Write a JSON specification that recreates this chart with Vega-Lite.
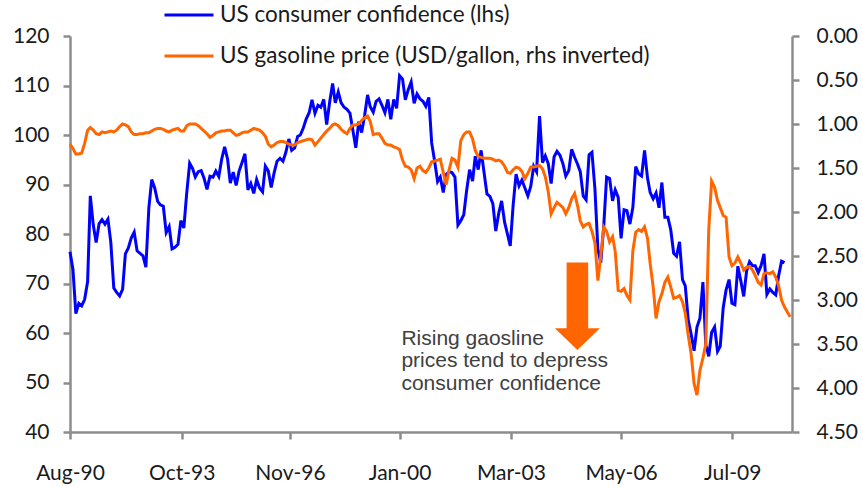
{
"$schema":"https://vega.github.io/schema/vega-lite/v6.json",
"width":722,"height":396,
"autosize":{"type":"none"},
"padding":{"left":70,"top":36,"right":71,"bottom":55},
"background":"white",
"config":{"view":{"stroke":null},"font":"Lato",
 "axis":{"grid":false,"domainColor":"#8c8c8c","domainWidth":2.5,"tickColor":"#8c8c8c","tickWidth":2.5,"tickSize":7,"labelFont":"Lato","labelFontSize":21,"labelColor":"#1a1a1a","title":null}},
"datasets":{
"conf":[
{"date":"1990-08-01","v":76.4},{"date":"1990-09-01","v":72.8},{"date":"1990-10-01","v":63.9},{"date":"1990-11-01","v":66.0},{"date":"1990-12-01","v":65.5},
{"date":"1991-01-01","v":66.8},{"date":"1991-02-01","v":70.4},{"date":"1991-03-01","v":87.7},{"date":"1991-04-01","v":81.8},{"date":"1991-05-01","v":78.3},{"date":"1991-06-01","v":82.1},{"date":"1991-07-01","v":82.9},{"date":"1991-08-01","v":82.0},{"date":"1991-09-01","v":83.0},{"date":"1991-10-01","v":78.3},{"date":"1991-11-01","v":69.1},{"date":"1991-12-01","v":68.2},
{"date":"1992-01-01","v":67.5},{"date":"1992-02-01","v":68.8},{"date":"1992-03-01","v":76.0},{"date":"1992-04-01","v":77.2},{"date":"1992-05-01","v":79.2},{"date":"1992-06-01","v":80.4},{"date":"1992-07-01","v":76.6},{"date":"1992-08-01","v":76.1},{"date":"1992-09-01","v":75.6},{"date":"1992-10-01","v":73.3},{"date":"1992-11-01","v":85.3},{"date":"1992-12-01","v":91.0},
{"date":"1993-01-01","v":89.3},{"date":"1993-02-01","v":86.6},{"date":"1993-03-01","v":85.9},{"date":"1993-04-01","v":85.6},{"date":"1993-05-01","v":80.3},{"date":"1993-06-01","v":81.5},{"date":"1993-07-01","v":77.0},{"date":"1993-08-01","v":77.3},{"date":"1993-09-01","v":77.9},{"date":"1993-10-01","v":82.7},{"date":"1993-11-01","v":81.2},{"date":"1993-12-01","v":88.2},
{"date":"1994-01-01","v":94.3},{"date":"1994-02-01","v":93.2},{"date":"1994-03-01","v":91.5},{"date":"1994-04-01","v":92.6},{"date":"1994-05-01","v":92.8},{"date":"1994-06-01","v":91.2},{"date":"1994-07-01","v":89.0},{"date":"1994-08-01","v":91.7},{"date":"1994-09-01","v":91.5},{"date":"1994-10-01","v":92.7},{"date":"1994-11-01","v":91.6},{"date":"1994-12-01","v":95.1},
{"date":"1995-01-01","v":97.6},{"date":"1995-02-01","v":95.1},{"date":"1995-03-01","v":90.3},{"date":"1995-04-01","v":92.5},{"date":"1995-05-01","v":89.8},{"date":"1995-06-01","v":92.7},{"date":"1995-07-01","v":94.4},{"date":"1995-08-01","v":96.2},{"date":"1995-09-01","v":88.9},{"date":"1995-10-01","v":90.2},{"date":"1995-11-01","v":88.2},{"date":"1995-12-01","v":91.0},
{"date":"1996-01-01","v":89.3},{"date":"1996-02-01","v":88.5},{"date":"1996-03-01","v":93.7},{"date":"1996-04-01","v":92.7},{"date":"1996-05-01","v":89.4},{"date":"1996-06-01","v":92.4},{"date":"1996-07-01","v":94.7},{"date":"1996-08-01","v":95.3},{"date":"1996-09-01","v":94.7},{"date":"1996-10-01","v":96.5},{"date":"1996-11-01","v":99.2},{"date":"1996-12-01","v":96.9},
{"date":"1997-01-01","v":97.4},{"date":"1997-02-01","v":99.7},{"date":"1997-03-01","v":100.0},{"date":"1997-04-01","v":101.4},{"date":"1997-05-01","v":103.2},{"date":"1997-06-01","v":104.5},{"date":"1997-07-01","v":107.1},{"date":"1997-08-01","v":104.4},{"date":"1997-09-01","v":106.0},{"date":"1997-10-01","v":105.6},{"date":"1997-11-01","v":107.2},{"date":"1997-12-01","v":102.1},
{"date":"1998-01-01","v":106.6},{"date":"1998-02-01","v":110.4},{"date":"1998-03-01","v":106.5},{"date":"1998-04-01","v":108.7},{"date":"1998-05-01","v":106.5},{"date":"1998-06-01","v":105.6},{"date":"1998-07-01","v":105.2},{"date":"1998-08-01","v":104.4},{"date":"1998-09-01","v":100.9},{"date":"1998-10-01","v":97.4},{"date":"1998-11-01","v":102.7},{"date":"1998-12-01","v":100.5},
{"date":"1999-01-01","v":103.9},{"date":"1999-02-01","v":108.1},{"date":"1999-03-01","v":105.7},{"date":"1999-04-01","v":104.6},{"date":"1999-05-01","v":106.8},{"date":"1999-06-01","v":107.3},{"date":"1999-07-01","v":106.0},{"date":"1999-08-01","v":104.5},{"date":"1999-09-01","v":107.2},{"date":"1999-10-01","v":103.2},{"date":"1999-11-01","v":107.2},{"date":"1999-12-01","v":105.4},
{"date":"2000-01-01","v":112.0},{"date":"2000-02-01","v":111.3},{"date":"2000-03-01","v":107.1},{"date":"2000-04-01","v":109.2},{"date":"2000-05-01","v":110.7},{"date":"2000-06-01","v":106.4},{"date":"2000-07-01","v":108.3},{"date":"2000-08-01","v":107.3},{"date":"2000-09-01","v":106.8},{"date":"2000-10-01","v":105.8},{"date":"2000-11-01","v":107.6},{"date":"2000-12-01","v":98.4},
{"date":"2001-01-01","v":94.7},{"date":"2001-02-01","v":90.6},{"date":"2001-03-01","v":91.5},{"date":"2001-04-01","v":88.4},{"date":"2001-05-01","v":92.0},{"date":"2001-06-01","v":92.6},{"date":"2001-07-01","v":92.4},{"date":"2001-08-01","v":91.5},{"date":"2001-09-01","v":81.8},{"date":"2001-10-01","v":82.7},{"date":"2001-11-01","v":83.9},{"date":"2001-12-01","v":88.8},
{"date":"2002-01-01","v":93.0},{"date":"2002-02-01","v":90.7},{"date":"2002-03-01","v":95.7},{"date":"2002-04-01","v":93.0},{"date":"2002-05-01","v":96.9},{"date":"2002-06-01","v":92.4},{"date":"2002-07-01","v":88.1},{"date":"2002-08-01","v":87.6},{"date":"2002-09-01","v":86.1},{"date":"2002-10-01","v":80.6},{"date":"2002-11-01","v":84.2},{"date":"2002-12-01","v":86.7},
{"date":"2003-01-01","v":82.4},{"date":"2003-02-01","v":79.9},{"date":"2003-03-01","v":77.6},{"date":"2003-04-01","v":86.0},{"date":"2003-05-01","v":92.1},{"date":"2003-06-01","v":89.7},{"date":"2003-07-01","v":90.9},{"date":"2003-08-01","v":89.3},{"date":"2003-09-01","v":87.7},{"date":"2003-10-01","v":89.6},{"date":"2003-11-01","v":93.7},{"date":"2003-12-01","v":92.6},
{"date":"2004-01-01","v":103.8},{"date":"2004-02-01","v":94.4},{"date":"2004-03-01","v":95.8},{"date":"2004-04-01","v":94.2},{"date":"2004-05-01","v":90.2},{"date":"2004-06-01","v":95.6},{"date":"2004-07-01","v":96.7},{"date":"2004-08-01","v":95.9},{"date":"2004-09-01","v":94.2},{"date":"2004-10-01","v":91.7},{"date":"2004-11-01","v":92.8},{"date":"2004-12-01","v":97.1},
{"date":"2005-01-01","v":95.5},{"date":"2005-02-01","v":94.1},{"date":"2005-03-01","v":92.6},{"date":"2005-04-01","v":87.7},{"date":"2005-05-01","v":86.9},{"date":"2005-06-01","v":96.0},{"date":"2005-07-01","v":96.5},{"date":"2005-08-01","v":89.1},{"date":"2005-09-01","v":76.9},{"date":"2005-10-01","v":74.2},{"date":"2005-11-01","v":81.6},{"date":"2005-12-01","v":91.5},
{"date":"2006-01-01","v":91.2},{"date":"2006-02-01","v":86.7},{"date":"2006-03-01","v":88.9},{"date":"2006-04-01","v":87.4},{"date":"2006-05-01","v":79.1},{"date":"2006-06-01","v":84.9},{"date":"2006-07-01","v":84.7},{"date":"2006-08-01","v":82.0},{"date":"2006-09-01","v":85.4},{"date":"2006-10-01","v":93.6},{"date":"2006-11-01","v":92.1},{"date":"2006-12-01","v":91.7},
{"date":"2007-01-01","v":96.9},{"date":"2007-02-01","v":91.3},{"date":"2007-03-01","v":88.4},{"date":"2007-04-01","v":87.1},{"date":"2007-05-01","v":88.3},{"date":"2007-06-01","v":85.3},{"date":"2007-07-01","v":90.4},{"date":"2007-08-01","v":83.4},{"date":"2007-09-01","v":83.4},{"date":"2007-10-01","v":80.9},{"date":"2007-11-01","v":76.1},{"date":"2007-12-01","v":75.5},
{"date":"2008-01-01","v":78.4},{"date":"2008-02-01","v":70.8},{"date":"2008-03-01","v":69.5},{"date":"2008-04-01","v":62.6},{"date":"2008-05-01","v":59.8},{"date":"2008-06-01","v":56.4},{"date":"2008-07-01","v":61.2},{"date":"2008-08-01","v":63.0},{"date":"2008-09-01","v":70.3},{"date":"2008-10-01","v":57.6},{"date":"2008-11-01","v":55.3},{"date":"2008-12-01","v":60.1},
{"date":"2009-01-01","v":61.2},{"date":"2009-02-01","v":56.3},{"date":"2009-03-01","v":57.3},{"date":"2009-04-01","v":65.1},{"date":"2009-05-01","v":68.7},{"date":"2009-06-01","v":70.8},{"date":"2009-07-01","v":66.0},{"date":"2009-08-01","v":65.7},{"date":"2009-09-01","v":73.5},{"date":"2009-10-01","v":70.6},{"date":"2009-11-01","v":67.4},{"date":"2009-12-01","v":72.5},
{"date":"2010-01-01","v":74.4},{"date":"2010-02-01","v":73.6},{"date":"2010-03-01","v":73.6},{"date":"2010-04-01","v":72.2},{"date":"2010-05-01","v":73.6},{"date":"2010-06-01","v":76.0},{"date":"2010-07-01","v":67.8},{"date":"2010-08-01","v":68.9},{"date":"2010-09-01","v":68.2},{"date":"2010-10-01","v":67.7},{"date":"2010-11-01","v":71.6},{"date":"2010-12-01","v":74.5},
{"date":"2011-01-01","v":74.2}
],
"gas":[
{"date":"1990-08-01","p":1.23},{"date":"1990-09-01","p":1.28},{"date":"1990-10-01","p":1.34},{"date":"1990-11-01","p":1.34},{"date":"1990-12-01","p":1.33},
{"date":"1991-01-01","p":1.22},{"date":"1991-02-01","p":1.07},{"date":"1991-03-01","p":1.04},{"date":"1991-04-01","p":1.07},{"date":"1991-05-01","p":1.11},{"date":"1991-06-01","p":1.12},{"date":"1991-07-01","p":1.09},{"date":"1991-08-01","p":1.10},{"date":"1991-09-01","p":1.09},{"date":"1991-10-01","p":1.08},{"date":"1991-11-01","p":1.09},{"date":"1991-12-01","p":1.07},
{"date":"1992-01-01","p":1.03},{"date":"1992-02-01","p":1.00},{"date":"1992-03-01","p":1.01},{"date":"1992-04-01","p":1.03},{"date":"1992-05-01","p":1.09},{"date":"1992-06-01","p":1.12},{"date":"1992-07-01","p":1.12},{"date":"1992-08-01","p":1.11},{"date":"1992-09-01","p":1.11},{"date":"1992-10-01","p":1.10},{"date":"1992-11-01","p":1.10},{"date":"1992-12-01","p":1.08},
{"date":"1993-01-01","p":1.06},{"date":"1993-02-01","p":1.05},{"date":"1993-03-01","p":1.05},{"date":"1993-04-01","p":1.06},{"date":"1993-05-01","p":1.08},{"date":"1993-06-01","p":1.09},{"date":"1993-07-01","p":1.07},{"date":"1993-08-01","p":1.06},{"date":"1993-09-01","p":1.05},{"date":"1993-10-01","p":1.08},{"date":"1993-11-01","p":1.08},{"date":"1993-12-01","p":1.02},
{"date":"1994-01-01","p":1.00},{"date":"1994-02-01","p":1.00},{"date":"1994-03-01","p":1.00},{"date":"1994-04-01","p":1.02},{"date":"1994-05-01","p":1.05},{"date":"1994-06-01","p":1.08},{"date":"1994-07-01","p":1.11},{"date":"1994-08-01","p":1.15},{"date":"1994-09-01","p":1.13},{"date":"1994-10-01","p":1.10},{"date":"1994-11-01","p":1.09},{"date":"1994-12-01","p":1.08},
{"date":"1995-01-01","p":1.08},{"date":"1995-02-01","p":1.07},{"date":"1995-03-01","p":1.07},{"date":"1995-04-01","p":1.10},{"date":"1995-05-01","p":1.13},{"date":"1995-06-01","p":1.12},{"date":"1995-07-01","p":1.10},{"date":"1995-08-01","p":1.09},{"date":"1995-09-01","p":1.09},{"date":"1995-10-01","p":1.07},{"date":"1995-11-01","p":1.05},{"date":"1995-12-01","p":1.06},
{"date":"1996-01-01","p":1.07},{"date":"1996-02-01","p":1.10},{"date":"1996-03-01","p":1.14},{"date":"1996-04-01","p":1.23},{"date":"1996-05-01","p":1.26},{"date":"1996-06-01","p":1.24},{"date":"1996-07-01","p":1.21},{"date":"1996-08-01","p":1.20},{"date":"1996-09-01","p":1.20},{"date":"1996-10-01","p":1.21},{"date":"1996-11-01","p":1.23},{"date":"1996-12-01","p":1.24},
{"date":"1997-01-01","p":1.24},{"date":"1997-02-01","p":1.21},{"date":"1997-03-01","p":1.20},{"date":"1997-04-01","p":1.19},{"date":"1997-05-01","p":1.18},{"date":"1997-06-01","p":1.17},{"date":"1997-07-01","p":1.18},{"date":"1997-08-01","p":1.24},{"date":"1997-09-01","p":1.20},{"date":"1997-10-01","p":1.16},{"date":"1997-11-01","p":1.12},{"date":"1997-12-01","p":1.08},
{"date":"1998-01-01","p":1.05},{"date":"1998-02-01","p":1.01},{"date":"1998-03-01","p":1.00},{"date":"1998-04-01","p":1.02},{"date":"1998-05-01","p":1.06},{"date":"1998-06-01","p":1.09},{"date":"1998-07-01","p":1.11},{"date":"1998-08-01","p":1.05},{"date":"1998-09-01","p":1.01},{"date":"1998-10-01","p":1.01},{"date":"1998-11-01","p":1.00},{"date":"1998-12-01","p":0.96},
{"date":"1999-01-01","p":0.93},{"date":"1999-02-01","p":0.91},{"date":"1999-03-01","p":0.97},{"date":"1999-04-01","p":1.12},{"date":"1999-05-01","p":1.11},{"date":"1999-06-01","p":1.11},{"date":"1999-07-01","p":1.16},{"date":"1999-08-01","p":1.22},{"date":"1999-09-01","p":1.24},{"date":"1999-10-01","p":1.24},{"date":"1999-11-01","p":1.26},{"date":"1999-12-01","p":1.27},
{"date":"2000-01-01","p":1.29},{"date":"2000-02-01","p":1.41},{"date":"2000-03-01","p":1.48},{"date":"2000-04-01","p":1.49},{"date":"2000-05-01","p":1.52},{"date":"2000-06-01","p":1.62},{"date":"2000-07-01","p":1.50},{"date":"2000-08-01","p":1.48},{"date":"2000-09-01","p":1.53},{"date":"2000-10-01","p":1.55},{"date":"2000-11-01","p":1.50},{"date":"2000-12-01","p":1.43},
{"date":"2001-01-01","p":1.42},{"date":"2001-02-01","p":1.41},{"date":"2001-03-01","p":1.40},{"date":"2001-04-01","p":1.55},{"date":"2001-05-01","p":1.69},{"date":"2001-06-01","p":1.52},{"date":"2001-07-01","p":1.39},{"date":"2001-08-01","p":1.41},{"date":"2001-09-01","p":1.49},{"date":"2001-10-01","p":1.19},{"date":"2001-11-01","p":1.12},{"date":"2001-12-01","p":1.09},
{"date":"2002-01-01","p":1.09},{"date":"2002-02-01","p":1.17},{"date":"2002-03-01","p":1.30},{"date":"2002-04-01","p":1.37},{"date":"2002-05-01","p":1.38},{"date":"2002-06-01","p":1.39},{"date":"2002-07-01","p":1.39},{"date":"2002-08-01","p":1.39},{"date":"2002-09-01","p":1.40},{"date":"2002-10-01","p":1.42},{"date":"2002-11-01","p":1.41},{"date":"2002-12-01","p":1.43},
{"date":"2003-01-01","p":1.48},{"date":"2003-02-01","p":1.55},{"date":"2003-03-01","p":1.56},{"date":"2003-04-01","p":1.52},{"date":"2003-05-01","p":1.49},{"date":"2003-06-01","p":1.50},{"date":"2003-07-01","p":1.54},{"date":"2003-08-01","p":1.62},{"date":"2003-09-01","p":1.56},{"date":"2003-10-01","p":1.49},{"date":"2003-11-01","p":1.49},{"date":"2003-12-01","p":1.48},
{"date":"2004-01-01","p":1.47},{"date":"2004-02-01","p":1.51},{"date":"2004-03-01","p":1.60},{"date":"2004-04-01","p":1.77},{"date":"2004-05-01","p":2.02},{"date":"2004-06-01","p":1.95},{"date":"2004-07-01","p":1.89},{"date":"2004-08-01","p":1.92},{"date":"2004-09-01","p":1.95},{"date":"2004-10-01","p":2.02},{"date":"2004-11-01","p":1.95},{"date":"2004-12-01","p":1.85},
{"date":"2005-01-01","p":1.79},{"date":"2005-02-01","p":1.93},{"date":"2005-03-01","p":2.10},{"date":"2005-04-01","p":2.17},{"date":"2005-05-01","p":2.14},{"date":"2005-06-01","p":2.13},{"date":"2005-07-01","p":2.22},{"date":"2005-08-01","p":2.35},{"date":"2005-09-01","p":2.78},{"date":"2005-10-01","p":2.50},{"date":"2005-11-01","p":2.17},{"date":"2005-12-01","p":2.22},
{"date":"2006-01-01","p":2.34},{"date":"2006-02-01","p":2.28},{"date":"2006-03-01","p":2.45},{"date":"2006-04-01","p":2.89},{"date":"2006-05-01","p":2.90},{"date":"2006-06-01","p":2.87},{"date":"2006-07-01","p":2.95},{"date":"2006-08-01","p":3.00},{"date":"2006-09-01","p":2.44},{"date":"2006-10-01","p":2.23},{"date":"2006-11-01","p":2.20},{"date":"2006-12-01","p":2.22},
{"date":"2007-01-01","p":2.17},{"date":"2007-02-01","p":2.30},{"date":"2007-03-01","p":2.59},{"date":"2007-04-01","p":2.85},{"date":"2007-05-01","p":3.21},{"date":"2007-06-01","p":3.02},{"date":"2007-07-01","p":2.93},{"date":"2007-08-01","p":2.80},{"date":"2007-09-01","p":2.74},{"date":"2007-10-01","p":2.85},{"date":"2007-11-01","p":2.98},{"date":"2007-12-01","p":2.97},
{"date":"2008-01-01","p":2.95},{"date":"2008-02-01","p":3.02},{"date":"2008-03-01","p":3.15},{"date":"2008-04-01","p":3.40},{"date":"2008-05-01","p":3.61},{"date":"2008-06-01","p":3.95},{"date":"2008-07-01","p":4.08},{"date":"2008-08-01","p":3.80},{"date":"2008-09-01","p":3.66},{"date":"2008-10-01","p":3.50},{"date":"2008-11-01","p":2.20},{"date":"2008-12-01","p":1.65},
{"date":"2009-01-01","p":1.72},{"date":"2009-02-01","p":1.87},{"date":"2009-03-01","p":1.95},{"date":"2009-04-01","p":2.04},{"date":"2009-05-01","p":2.06},{"date":"2009-06-01","p":2.51},{"date":"2009-07-01","p":2.61},{"date":"2009-08-01","p":2.58},{"date":"2009-09-01","p":2.51},{"date":"2009-10-01","p":2.58},{"date":"2009-11-01","p":2.66},{"date":"2009-12-01","p":2.63},
{"date":"2010-01-01","p":2.62},{"date":"2010-02-01","p":2.66},{"date":"2010-03-01","p":2.72},{"date":"2010-04-01","p":2.80},{"date":"2010-05-01","p":2.83},{"date":"2010-06-01","p":2.70},{"date":"2010-07-01","p":2.69},{"date":"2010-08-01","p":2.70},{"date":"2010-09-01","p":2.68},{"date":"2010-10-01","p":2.74},{"date":"2010-11-01","p":2.84},{"date":"2010-12-01","p":3.00},
{"date":"2011-01-01","p":3.08},{"date":"2011-02-01","p":3.14},{"date":"2011-03-01","p":3.19}
],
"note":[{"date":"2000-01-20","v":57.6,"label":"Rising gaosline\nprices tend to depress\nconsumer confidence"}],
"arrow":[{"date":"2005-01-30","v":65.4}]
},
"encoding":{"x":{"field":"date","type":"temporal","title":null,
 "scale":{"type":"utc","nice":false,"domain":[{"year":1990,"month":8,"date":1,"utc":true},{"year":2011,"month":3,"date":20,"utc":true}]},
 "axis":{"labelExpr":"utcFormat(datum.value, '%b-%y')","labelFlush":false,"labelPadding":23,"labelBaseline":"top",
  "values":[{"year":1990,"month":8,"date":1,"utc":true},{"year":1993,"month":10,"date":10,"utc":true},{"year":1996,"month":11,"date":13,"utc":true},{"year":2000,"month":1,"date":1,"utc":true},{"year":2003,"month":3,"date":8,"utc":true},{"year":2006,"month":5,"date":1,"utc":true},{"year":2009,"month":7,"date":3,"utc":true}]}}},
"layer":[
{"data":{"name":"conf"},"mark":{"type":"line","strokeWidth":3},
 "encoding":{"y":{"field":"v","type":"quantitative","title":null,"scale":{"domain":[40,120],"nice":false,"zero":false},
   "axis":{"orient":"left","values":[40,50,60,70,80,90,100,110,120],"labelPadding":14}},
  "color":{"datum":"US consumer confidence (lhs)","type":"nominal",
   "scale":{"domain":["US consumer confidence (lhs)","US gasoline price (USD/gallon,  rhs inverted)"],"range":["#0000FF","#FF6600"]},
   "legend":{"title":null,"orient":"none","legendX":93,"legendY":-31,"direction":"vertical","symbolType":"stroke","symbolSize":2401,"symbolStrokeWidth":3,"clipHeight":20,"rowPadding":18,"labelFont":"Lato","labelFontSize":22.5,"labelColor":"#1a1a1a","labelLimit":700,"labelOffset":5,"padding":0}}}},
{"data":{"name":"note"},"mark":{"type":"text","font":"Liberation Sans","fontSize":21,"color":"#404040","align":"left","baseline":"alphabetic","lineBreak":"\n","lineHeight":22.5},
 "encoding":{"y":{"field":"v","type":"quantitative","scale":{"domain":[40,120],"nice":false,"zero":false},"axis":null},"text":{"field":"label"}}},
{"data":{"name":"arrow"},"mark":{"type":"point","shape":"M-0.246,-1L0.246,-1L0.246,0.504L0.513,0.504L0,1L-0.513,0.504L-0.246,0.504Z","filled":true,"size":7691,"color":"#FF6600","opacity":1,"strokeWidth":0},
 "encoding":{"y":{"field":"v","type":"quantitative","scale":{"domain":[40,120],"nice":false,"zero":false},"axis":null}}},
{"data":{"name":"gas"},"mark":{"type":"line","strokeWidth":3},
 "encoding":{"y":{"field":"p","type":"quantitative","title":null,"scale":{"domain":[0,4.5],"reverse":true,"nice":false,"zero":false},
   "axis":{"orient":"right","values":[0,0.5,1,1.5,2,2.5,3,3.5,4,4.5],"format":".2f","labelPadding":17}},
  "color":{"datum":"US gasoline price (USD/gallon,  rhs inverted)","type":"nominal"}}}
],
"resolve":{"scale":{"y":"independent"}}
}
